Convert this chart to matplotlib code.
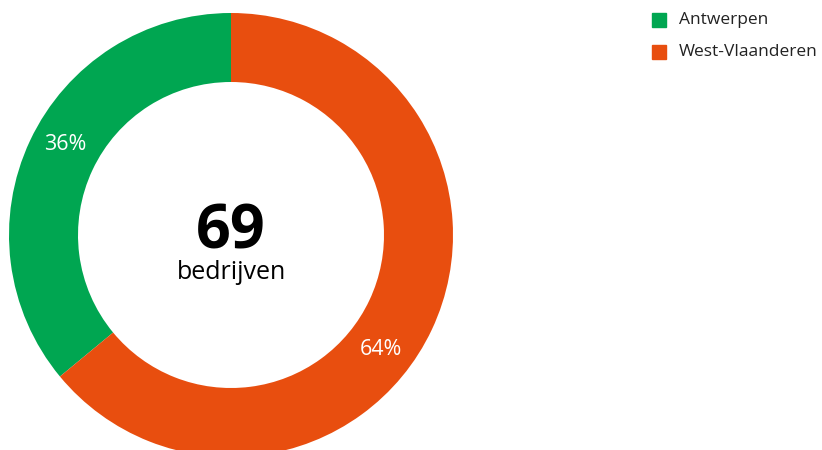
import numpy as np
import matplotlib.pyplot as plt
from matplotlib.patches import Rectangle

plt.rcParams['font.family'] = ['Open Sans', 'DejaVu Sans']

regions = ['Antwerpen', 'West-Vlaanderen']
shares  = [36, 64]
colors  = ['#00A651', '#E84E0F']
total   = 69
total_label = 'bedrijven'

W, H = 822, 450
cx, cy, R = 231, 235, 222   # donut center / outer radius in pixels

fig = plt.figure(figsize=(W / 100, H / 100), dpi=100)
ax = fig.add_axes([0, 0, 1, 1])

wedges, texts, autotexts = ax.pie(
    shares, colors=colors, startangle=90, counterclock=True,
    radius=1, wedgeprops=dict(width=69 / 222, linewidth=0),
    autopct='%d%%', pctdistance=0.85,
    textprops=dict(color='white', fontsize=15.5))
ax.set_aspect('auto')
ax.set_xlim(-cx / R, (W - cx) / R)
ax.set_ylim(-(H - cy) / R, cy / R)
ax.axis('off')

# label angles as placed in the original
label_angles = [151.5, -37.3]
for t, a in zip(autotexts, label_angles):
    t.set_position((0.85 * np.cos(np.radians(a)), 0.85 * np.sin(np.radians(a))))

ax.text(0, (cy - 248) / R, str(total), ha='center', va='baseline',
        fontsize=44, fontweight='bold', color='black')
ax.text(0, (cy - 279) / R, total_label, ha='center', va='baseline',
        fontsize=18, color='black')

# legend in the top right
for i, (name, c) in enumerate(zip(regions, colors)):
    ytop = 13 + i * 32
    fig.patches.append(Rectangle((652 / W, 1 - (ytop + 14) / H), 14 / W, 14 / H,
                                 transform=fig.transFigure, color=c))
    fig.text(679 / W, 1 - (ytop + 7) / H, name, ha='left', va='center',
             fontsize=12.5, color='#222222')

fig.savefig('out.png', dpi=100)
